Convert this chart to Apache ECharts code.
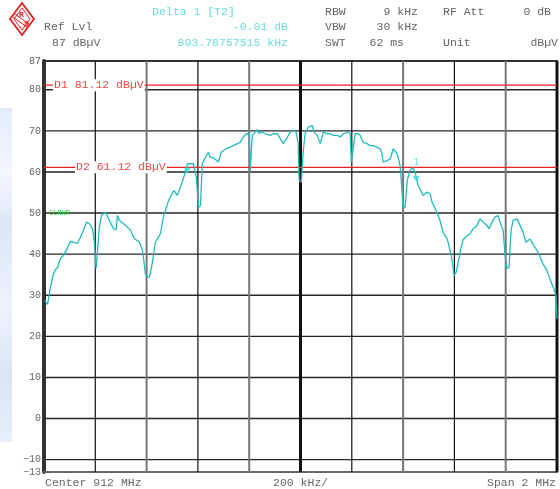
<!DOCTYPE html>
<html><head><meta charset="utf-8">
<script src="https://cdn.jsdelivr.net/npm/echarts@6/dist/echarts.min.js"></script>
<style>html,body{margin:0;padding:0;background:#fff}#c{width:560px;height:489px}</style>
</head><body><div id="c"></div>
<script>
// frequency offset from center (kHz), span -1000..1000
const freqKHz = [-997,-994,-986,-975,-963,-955,-947,-936,-924,-908,-897,-885,-870,-858,-846,-834,-823,-811,-803,-797,-792,-784,-776,-760,-753,-749,-729,-718,-714,-706,-690,-675,-663,-648,-628,-616,-611,-605,-597,-589,-581,-574,-566,-554,-546,-535,-514,-494,-480,-468,-457,-446,-441,-429,-418,-406,-398,-390,-383,-367,-359,-352,-336,-320,-309,-289,-262,-235,-223,-211,-200,-196,-188,-176,-169,-161,-153,-137,-118,-106,-90,-79,-67,-51,-40,-28,-17,-9,-5,3,11,18,30,46,53,65,77,89,104,116,128,143,155,167,186,194,198,205,213,225,233,244,260,272,283,299,311,318,322,338,350,361,373,381,389,396,400,408,416,427,439,447,459,478,494,505,513,529,544,556,572,583,591,599,607,614,626,634,650,661,673,688,700,712,727,735,747,758,770,778,790,797,805,813,821,829,844,856,868,879,895,906,922,934,945,961,977,988,996,1000];
const levelDbuV = [28.7,28.5,27.8,32.0,35.3,36.2,36.8,38.9,39.7,41.6,43.1,42.9,42.6,44.1,45.8,47.8,47.4,46.2,42.6,36.5,36.8,46.6,49.4,50.2,50.6,48.7,46.2,46.0,49.4,48.2,47.4,46.6,45.8,43.8,42.9,40.9,38.5,35.3,34.5,34.4,36.8,39.3,42.9,44.1,45.0,49.0,53.1,55.5,54.3,56.3,58.4,60.4,62.0,62.0,62.0,58.7,51.4,51.8,62.0,64.0,64.8,63.6,63.3,62.4,64.8,65.7,66.4,67.2,68.5,69.3,69.3,60.4,68.9,69.7,70.3,69.3,69.7,69.3,68.9,69.3,69.3,68.1,66.9,68.5,69.7,70.1,69.7,66.9,57.9,57.5,65.2,69.3,70.9,71.3,69.7,68.9,66.9,69.7,69.3,69.3,68.9,68.9,68.5,69.3,69.7,69.3,62.4,62.0,69.3,69.3,68.9,67.2,66.9,66.4,66.4,66.0,65.6,64.4,62.4,62.8,63.2,65.6,64.8,63.6,61.2,55.1,51.4,51.4,57.9,60.4,61.0,59.9,56.7,54.3,55.1,54.7,52.6,50.6,48.2,45.3,43.7,40.9,38.5,34.8,35.6,37.7,41.7,43.5,44.5,44.9,46.2,47.0,48.6,47.8,47.0,46.2,47.8,49.0,49.4,47.8,45.8,40.1,36.5,36.8,45.8,48.2,48.6,47.0,45.3,42.9,43.7,42.5,40.9,39.3,37.7,36.0,33.2,31.6,30.0,24.3];
const yTickLabels = [-13,-10,0,10,20,30,40,50,60,70,80,87];
const yGridLevels = [-10,0,10,20,30,40,50,60,70,80];
const xGridBlack = [-800,-400,200,600];
const xGridGrey = [-600,-200,400,800];
const displayLines = [{name:'D1', value:81.12}, {name:'D2', value:61.12}];
const markers = [{name:'T2', f:-441, level:60.3}, {name:'1', f:451, level:58.3}];
const X_MIN = -1000, X_MAX = 1000, Y_MIN = -13, Y_MAX = 87;

const trace = freqKHz.map((f,i)=>[f, levelDbuV[i]]);
const mono = '"Liberation Mono","DejaVu Sans Mono",monospace';
const series = [];
yGridLevels.forEach(v=>series.push({type:'line',silent:true,symbol:'none',animation:false,z:1,
  data:[[X_MIN,v],[X_MAX,v]],lineStyle:{color:'#262626',width:1.4}}));
xGridBlack.forEach(v=>series.push({type:'line',silent:true,symbol:'none',animation:false,z:1,
  data:[[v,Y_MIN],[v,Y_MAX]],lineStyle:{color:'#111',width:1.2}}));
xGridGrey.forEach(v=>series.push({type:'line',silent:true,symbol:'none',animation:false,z:1,
  data:[[v,Y_MIN],[v,Y_MAX]],lineStyle:{color:'#777',width:2}}));
series.push({type:'line',silent:true,symbol:'none',animation:false,z:1,
  data:[[0,Y_MIN],[0,Y_MAX]],lineStyle:{color:'#111',width:3}});
series.push({type:'line',silent:true,symbol:'none',animation:false,z:1,
  data:[[X_MAX,Y_MIN],[X_MAX,Y_MAX]],lineStyle:{color:'#111',width:3}});
displayLines.forEach(d=>series.push({type:'line',silent:true,symbol:'none',animation:false,z:2,
  data:[[X_MIN,d.value],[X_MAX,d.value]],lineStyle:{color:'#ee2222',width:1.2}}));
series.push({type:'line',silent:true,symbol:'none',animation:false,z:5,data:trace,
  lineStyle:{color:'#1fbcbc',width:1.3}});
series.push({type:'scatter',silent:true,animation:false,z:6,symbol:'triangle',symbolRotate:180,symbolSize:[7,6],
  data:markers.map(m=>({value:[m.f,m.level], label:{show:m.name==='1', formatter:m.name}})),
  itemStyle:{color:'#33e0e0'},
  label:{position:'top',distance:9,color:'#55dddd',fontFamily:mono,fontSize:10}});

const chart = echarts.init(document.getElementById('c'), null, {renderer:'canvas'});
chart.setOption({
  animation:false,
  grid:{left:44,right:3,top:61,bottom:17,show:true,borderColor:'#333',borderWidth:2},
  xAxis:{type:'value',min:X_MIN,max:X_MAX,interval:200,axisLabel:{show:false},axisTick:{show:false},
    splitLine:{show:false},axisLine:{show:true,onZero:false,lineStyle:{color:'#666',width:2}}},
  yAxis:{type:'value',min:Y_MIN,max:Y_MAX,splitLine:{show:false},axisTick:{show:false},
    axisLine:{show:true,onZero:false,lineStyle:{color:'#333',width:4}},
    axisLabel:{customValues:yTickLabels,color:'#666',fontFamily:mono,fontSize:10,margin:3,
      formatter:v=>String(v).replace('-','\u2212')}},
  series:series
});

const gfx = [];
const t = (x,y,text,opt={})=>gfx.push({type:'text',x:x,y:y,z:20,style:Object.assign({text:text,
  font:'11.5px '+mono,fill:'#666',textAlign:'left',textVerticalAlign:'middle'},opt)});
// header
t(44,27,'Ref Lvl'); t(52,43,'87 dB\u00b5V');
t(152,12,'Delta 1 [T2]',{fill:'#6bdcdc'});
t(288,27,'-0.01 dB',{fill:'#6bdcdc',textAlign:'right'});
t(288,43,'893.78757515 kHz',{fill:'#6bdcdc',textAlign:'right'});
t(325,12,'RBW'); t(418,12,'9 kHz',{textAlign:'right'}); t(443,12,'RF Att'); t(551,12,'0 dB',{textAlign:'right'});
t(325,27,'VBW'); t(418,27,'30 kHz',{textAlign:'right'});
t(325,43,'SWT'); t(404,43,'62 ms',{textAlign:'right'}); t(443,43,'Unit'); t(558,43,'dB\u00b5V',{textAlign:'right'});
// footer
t(45,483,'Center 912 MHz'); t(273,483,'200 kHz/'); t(556,483,'Span 2 MHz',{textAlign:'right'});
// display line labels
const d1 = chart.convertToPixel({gridIndex:0},[X_MIN, displayLines[0].value]);
const d2 = chart.convertToPixel({gridIndex:0},[X_MIN, displayLines[1].value]);
t(d1[0]+9, d1[1], 'D1 81.12 dB\u00b5V', {fill:'#f04848', backgroundColor:'#fff', padding:[0,1,0,1]});
t(d2[0]+31, d2[1], 'D2 61.12 dB\u00b5V', {fill:'#f04848', backgroundColor:'#fff', padding:[0,1,0,1]});
const g50 = chart.convertToPixel({gridIndex:0},[X_MIN, 50]);
t(g50[0]+5, g50[1], 'CLRWR', {fill:'#22cc22', font:'7px '+mono});
// left watermark band
gfx.push({type:'rect',z:0,shape:{x:0,y:108,width:12,height:334},style:{fill:new echarts.graphic.LinearGradient(0,0,0,1,[
  {offset:0,color:'#e4ebf9'},{offset:0.2,color:'#f4f7fd'},{offset:0.35,color:'#dfe5f8'},{offset:0.6,color:'#eef2fb'},
  {offset:0.8,color:'#dde3f6'},{offset:1,color:'#e8edfa'}])}});
// logo
gfx.push({type:'polygon',z:20,shape:{points:[[22,3],[34,19],[22,35],[10,19]]},style:{fill:'none',stroke:'#e82020',lineWidth:1.8}});
gfx.push({type:'polygon',z:20,shape:{points:[[22,8],[30,19],[22,30],[14,19]]},style:{fill:'none',stroke:'#e82020',lineWidth:1}});
gfx.push({type:'line',z:20,shape:{x1:15,y1:14,x2:29,y2:24},style:{stroke:'#e82020',lineWidth:1}});
gfx.push({type:'line',z:20,shape:{x1:13,y1:17,x2:27,y2:27},style:{stroke:'#e82020',lineWidth:1}});
t(19,15,'R',{fill:'#e82020',font:'bold 8px '+mono});
t(24,24,'S',{fill:'#e82020',font:'bold 8px '+mono});
chart.setOption({graphic:gfx});
</script></body></html>
